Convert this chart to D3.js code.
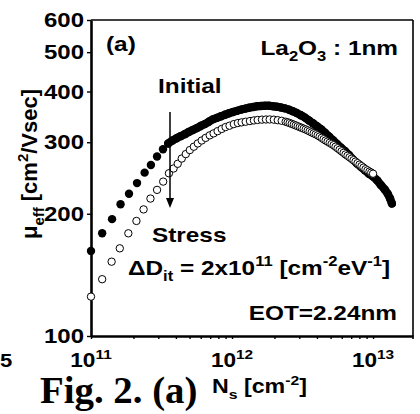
<!DOCTYPE html>
<html>
<head>
<meta charset="utf-8">
<script src="https://cdnjs.cloudflare.com/ajax/libs/d3/7.8.5/d3.min.js"></script>
<style>
  html, body { margin: 0; padding: 0; background: #fff; }
  svg { display: block; }
  text { font-family: "Liberation Sans", Arial, sans-serif; font-weight: bold; fill: #000; white-space: pre; }
</style>
</head>
<body>
<svg id="chart" width="420" height="414"></svg>
<script>
// Ns in units of 1e11 cm^-2, mobility in cm2/Vsec
var initialNs = [1.00, 1.20, 1.41, 1.62, 1.86, 2.12, 2.40, 2.66, 2.94, 3.24, 3.53,
    3.78, 4.05, 4.32, 4.62, 4.93, 5.27, 5.62, 6.0, 6.4, 6.85, 7.3, 7.8, 8.35, 8.9, 9.5,
    10.15, 10.85, 11.6, 12.4, 13.2, 14.1, 15.0, 16.0, 17.1, 18.3, 19.5, 20.8, 22.2, 23.7,
    25.3, 27.0, 28.8, 30.8, 32.9, 35.1, 37.5, 40.0, 42.7, 45.6, 48.7, 52.0, 55.5, 59.2,
    63.2, 67.5, 72.0, 76.9, 82.1, 87.6, 93.5, 100, 106.5, 113.5, 121, 127, 132, 136];
var initialMu = [162, 179, 194, 211, 224, 238, 252.5, 263.6, 276.8, 288.4, 298,
    303, 307, 310.5, 314, 318, 321.5, 325, 329, 332.5, 337, 341.5, 344.5, 347.5, 350.5, 353.5,
    356, 358.5, 361, 363, 365, 366.5, 368, 368.5, 369, 369, 368, 367, 365.5, 363.5,
    361, 357.5, 354, 349.5, 345, 339.5, 334, 328.5, 323, 316.5, 310, 303.5, 297, 291,
    285.5, 279, 272, 266, 261, 256, 251, 247, 242, 235.5, 229.5, 224, 218, 212];

var stressNs = [1.00, 1.20, 1.40, 1.60, 1.84, 2.10, 2.36, 2.64, 2.94, 3.25, 3.57,
    3.85, 4.12, 4.40, 4.70, 5.02, 5.36, 5.72, 6.1, 6.5, 6.95, 7.4, 7.9, 8.45, 9.0, 9.6,
    10.3, 11.0, 11.7, 12.5, 13.4, 14.3, 15.2, 16.3, 17.4, 18.5, 19.8, 21.1, 22.5,
    24.0, 24.8, 25.6, 26.5, 27.4, 28.3, 29.2, 30.2, 31.2, 32.2, 33.3, 34.4, 35.5, 36.7,
    37.9, 39.2, 40.5, 41.8, 43.2, 44.6, 46.1, 47.6, 49.2, 50.8, 52.5, 54.2, 56.0, 57.9,
    59.8, 61.8, 63.8, 65.9, 68.1, 70.4, 72.7, 75.1, 77.6, 80.2, 82.8, 85.5, 88.4, 91.3,
    94.3, 97.1, 100];
var stressMu = [125, 138, 152.4, 164.4, 179, 192, 205, 218, 229, 240, 251.6,
    258.5, 265.5, 273.5, 280.5, 287, 292.5, 298, 303, 307.5, 312, 315.5, 319.5, 323.5, 327, 329.5,
    332.5, 334.5, 335.8, 337, 338.3, 339.5, 340.4, 341, 341.3, 341.4, 341, 340, 338.8,
    337, 335.8, 334.5, 333, 331.5, 330, 328.5, 327, 325.5, 324, 322.5, 320.8, 319, 317.2,
    315.5, 313.8, 312, 309.8, 307.5, 305.2, 303, 301, 299, 297, 295, 292.5, 290, 287.5,
    285, 282.5, 280, 277.8, 275.5, 273.2, 271, 268.8, 266.5, 264.2, 262, 259.8, 257.5, 255.8,
    254, 252.5, 251];

var yTicks = [100, 200, 300, 400, 500, 600];
var xLabelExp = [11, 12, 13];

var svg = d3.select("#chart");
var x = d3.scaleLog().domain([1e11, 1.92e13]).range([91, 413]);
var y = d3.scaleLog().domain([100, 600]).range([336, 20]);
var SX = 1.16;

// text with sub/superscript parts, slightly widened like the scanned figure
function richText(px, py, parts, opts) {
    opts = opts || {};
    var sx = opts.sx || SX;
    var tr = opts.rotate
        ? `translate(${px},${py}) rotate(-90) scale(${sx},1)`
        : `translate(${px},${py}) scale(${sx},1)`;
    var fs = opts.size || 21;
    var t = svg.append("g").attr("transform", tr)
        .append("text")
        .attr("font-size", fs)
        .attr("text-anchor", opts.anchor || "start");
    if (opts.family) t.style("font-family", opts.family);
    var cur = 0;
    parts.forEach(function (p) {
        var s = typeof p === "string" ? [p, ""] : p;
        var target = s[1] === "sub" ? 0.3 * fs : s[1] === "sup" ? -0.42 * fs : 0;
        var ts = t.append("tspan").text(s[0]).attr("dy", target - cur);
        if (s[1]) ts.attr("font-size", fs * 0.68);
        cur = target;
    });
    return t;
}

// axes
var xTickVals = x.ticks().filter(v => v <= 1.92e13);
var xAxis = svg.append("g")
    .attr("transform", "translate(0,336)")
    .call(d3.axisBottom(x).tickValues(xTickVals).tickSize(3).tickSizeOuter(0).tickFormat(""));
xAxis.select(".domain").attr("stroke-width", 2.6);
xAxis.selectAll(".tick line").attr("stroke-width", 1.4);

var yAxis = svg.append("g")
    .attr("transform", "translate(91,0)")
    .call(d3.axisLeft(y).tickValues(yTicks).tickSize(4).tickSizeOuter(0).tickFormat(""));
yAxis.select(".domain").attr("stroke-width", 2.6);
yAxis.selectAll(".tick line").attr("stroke-width", 1.4);

svg.append("line").attr("x1", 91).attr("x2", 413).attr("y1", 20).attr("y2", 20)
    .attr("stroke", "#000").attr("stroke-width", 1.6);
svg.append("line").attr("x1", 413).attr("x2", 413).attr("y1", 20).attr("y2", 339)
    .attr("stroke", "#000").attr("stroke-width", 1.6);

// tick labels
yTicks.forEach(function (v) {
    richText(84, y(v) + 7, [String(v)], { anchor: "end", size: 20, sx: 1.2 });
});
xLabelExp.forEach(function (e) {
    richText(x(Math.pow(10, e)), 367, ["10", [String(e), "sup"]], { anchor: "middle", size: 19.5 });
});

// data: initial points (dense part merges into a thick band)
var initialPts = d3.zip(initialNs, initialMu);
svg.append("path")
    .datum(initialPts.slice(10))
    .attr("d", d3.line().x(d => x(d[0] * 1e11)).y(d => y(d[1])).curve(d3.curveCatmullRom))
    .attr("fill", "none")
    .attr("stroke", "#000")
    .attr("stroke-width", 8.2)
    .attr("stroke-linecap", "round");

svg.append("g").selectAll("circle")
    .data(initialPts)
    .join("circle")
    .attr("cx", d => x(d[0] * 1e11))
    .attr("cy", d => y(d[1]))
    .attr("r", 4.2)
    .attr("fill", "#000");

svg.append("g").selectAll("circle")
    .data(d3.zip(stressNs, stressMu))
    .join("circle")
    .attr("cx", d => x(d[0] * 1e11))
    .attr("cy", d => y(d[1]))
    .attr("r", 3.7)
    .attr("fill", "#fff")
    .attr("stroke", "#000")
    .attr("stroke-width", 1);

// arrow from Initial to Stress
svg.append("line").attr("x1", 170).attr("x2", 170).attr("y1", 112).attr("y2", 200)
    .attr("stroke", "#000").attr("stroke-width", 1.5);
svg.append("path").attr("d", "M166,198 L174,198 L170,208 Z").attr("fill", "#000");

// annotations
richText(106, 51, ["(a)"]);
richText(398, 55, ["La", ["2", "sub"], "O", ["3", "sub"], " : 1nm"], { anchor: "end" });
richText(158, 93, ["Initial"]);
richText(152, 242, ["Stress"]);
richText(128, 275, ["\u0394D", ["it", "sub"], " = 2x10", ["11", "sup"], " [cm", ["-2", "sup"], "eV", ["-1", "sup"], "]"]);
richText(397, 320, ["EOT=2.24nm"], { anchor: "end" });

// axis titles
richText(212, 393, ["N", ["s", "sub"], " [cm", ["-2", "sup"], "]"], { size: 20 });
richText(37, 164, ["\u03bc", ["eff", "sub"], " [cm", ["2", "sup"], "/Vsec]"], { rotate: true, anchor: "middle", size: 22, sx: 1.0 });

// caption pieces around the crop
richText(0, 367, ["5"], { size: 19 });
richText(40, 403, ["Fig. 2. (a)"], { size: 37, sx: 1.05, family: "'Liberation Serif', 'Times New Roman', serif" });
</script>
</body>
</html>
